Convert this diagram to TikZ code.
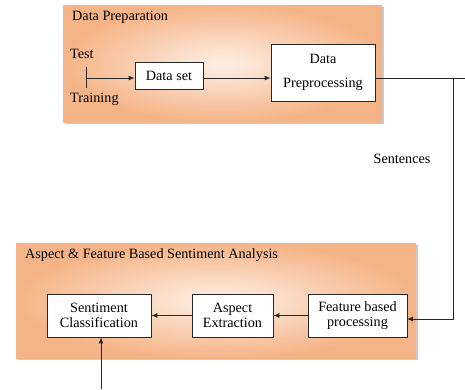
\documentclass[tikz,border=0pt]{standalone}
\usepackage{fontspec}
\setmainfont{Liberation Serif}
\usetikzlibrary{arrows.meta,shadows}
\definecolor{panelout}{RGB}{245,180,135}
\definecolor{panelin}{RGB}{254,240,230}
\definecolor{linec}{RGB}{40,40,40}
\begin{document}
\begin{tikzpicture}[x=1pt,y=-1pt,
  font=\fontsize{14.2}{15}\selectfont,
  panel/.style={shading=radial,inner color=panelin,outer color=panelout,
    drop shadow={shadow xshift=1.5pt,shadow yshift=-1.5pt,fill=black!35,opacity=0.6}},
  box/.style={draw=linec,fill=white,line width=0.8pt,align=center,inner sep=0pt},
  conn/.style={draw=linec,line width=0.8pt},
  arr/.style={conn,-{Latex[length=6pt,width=5pt]}},
  lbl/.style={inner sep=0pt,anchor=west}]
\useasboundingbox (0,0) rectangle (465,389);
% panels
\path[panel] (63,5) rectangle (382,122);
\path[panel] (16,243) rectangle (416,358);
% titles
\node[lbl] (t1) at (72,17) {Data Preparation};
\node[lbl] (t2) at (25,255) {Aspect \& Feature Based Sentiment Analysis};
% top nodes
\node[lbl] (test) at (70,54) {Test};
\node[lbl] (train) at (70,99) {Training};
\node[box,minimum width=68pt,minimum height=27pt] (ds) at (169,75.5) {Data set};
\node[box,minimum width=104pt,minimum height=57pt,font=\fontsize{14.2}{24}\selectfont] (dp) at (323,72.5) {Data\\Preprocessing};
\node[inner sep=0pt] (sent) at (402,159) {Sentences};
% bottom nodes
\node[box,minimum width=104pt,minimum height=43pt] (sc) at (99,315.5) {Sentiment\\Classification};
\node[box,minimum width=81pt,minimum height=43pt] (ae) at (232.5,315.5) {Aspect\\Extraction};
\node[box,minimum width=99pt,minimum height=43pt] (fbp) at (357.5,315.5) {Feature based\\processing};
% connectors
\coordinate (tt) at (86,67);
\coordinate (tb) at (86,88);
\coordinate (split) at (86,78);
\draw[conn] (tt) -- (tb);
\draw[arr] (split) -- (split -| ds.west);
\draw[arr] (ds.east |- split) -- (dp.west |- split);
\coordinate (r1) at (453,78);
\coordinate (r0) at (465,78);
\coordinate (fin) at (407,319);
\draw[conn] (dp.east |- r1) -- (r0);
\draw[arr] (r1) |- (fin);
\draw[arr] (fbp.west) -- (ae.east);
\draw[arr] (ae.west) -- (sc.east);
\coordinate (src) at (101,389);
\draw[arr] (src) -- (src |- sc.south);
\end{tikzpicture}
\end{document}
